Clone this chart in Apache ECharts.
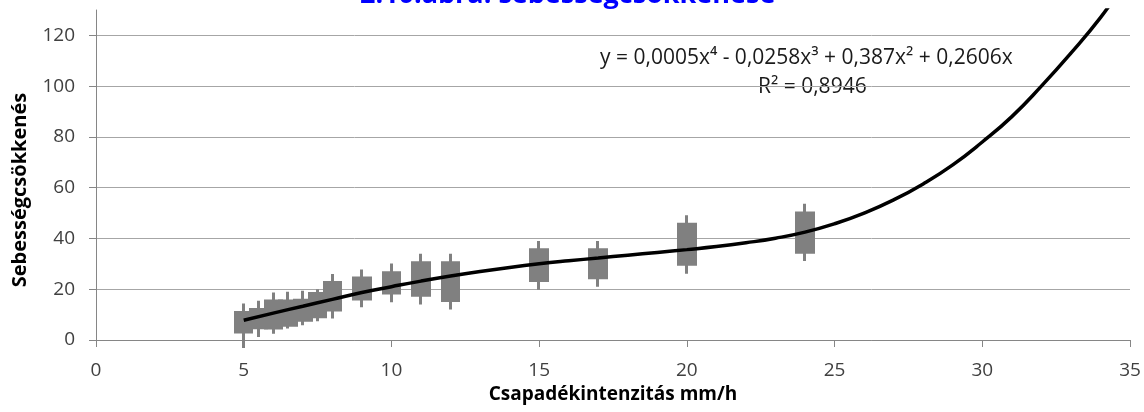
<!DOCTYPE html>
<html>
<head>
<meta charset="utf-8">
<script src="https://cdn.jsdelivr.net/npm/echarts@6/dist/echarts.min.js"></script>
<style>
  html, body { margin: 0; padding: 0; background: #fff; }
  #chart { width: 1144px; height: 412px; }
</style>
</head>
<body>
<div id="chart"></div>
<script>
// csapadékintenzitás (mm/h) – a mérési pontok helye
const intensities = [5, 5.5, 6, 6.5, 7, 7.5, 8, 9, 10, 11, 12, 15, 17, 20, 24];
// doboz alja / teteje, valamint a szélsőértékek
const boxLow  = [3.2, 4.8, 4.7, 5.8, 7.8, 9.2, 11.8, 16.2, 18.5, 17.6, 15.6, 23.4, 24.5, 29.8, 34.6];
const boxHigh = [10.8, 12, 15.4, 15.4, 15.7, 18.3, 22.7, 24.4, 26.5, 30.4, 30.4, 35.6, 35.6, 45.6, 50];
const minVals = [-3.2, 1.2, 2.5, 4.5, 5.8, 7.4, 8.5, 12.9, 14.9, 14, 12, 19.8, 21, 26.1, 31.1];
const maxVals = [14.4, 15.5, 18.7, 19, 19.4, 20, 26, 27.8, 30.1, 34, 34, 39, 39, 49.1, 53.7];

// trendvonal
const trendX = [5, 6, 7, 8, 9, 10, 11, 12, 13, 14, 15, 16, 17, 18, 19, 20, 21, 22, 23, 24, 25, 26, 27, 28, 29, 30, 31, 32, 33, 34, 34.6];
const trendY = [7.8, 10.6, 13.3, 16, 18.7, 21, 23.2, 25.2, 27, 28.6, 30, 31.2, 32.3, 33.4, 34.5, 35.6, 36.8, 38.3, 40.1, 42.5, 45.8, 50, 55.2, 61.5, 69, 78, 88, 100, 113, 127, 137];

const yTicks = [0, 20, 40, 60, 80, 100, 120];
const xTicks = [0, 5, 10, 15, 20, 25, 30, 35];

const equationText = 'y = 0,0005x⁴ - 0,0258x³ + 0,387x² + 0,2606x';
const r2Text = 'R² = 0,8946';

const chart = echarts.init(document.getElementById('chart'));

const boxData = intensities.map((x, i) => [x, boxLow[i], boxHigh[i], minVals[i], maxVals[i]]);
const trendData = trendX.map((x, i) => [x, trendY[i]]);

const axisGray = '#868686';
const labelFont = { fontFamily: 'Open Sans', fontSize: 19, color: '#404040' };

chart.setOption({
    animation: false,
    title: {
        text: '2.10.ábra: sebességcsökkenése',
        left: 355,
        top: -23,
        textStyle: { fontFamily: 'Open Sans', fontWeight: 'bold', fontSize: 27, color: '#0000ff' }
    },
    grid: { left: 96, right: 14, top: 10, bottom: 72 },
    xAxis: {
        type: 'value',
        min: xTicks[0],
        max: xTicks[xTicks.length - 1],
        interval: 5,
        name: 'Csapadékintenzitás mm/h',
        nameLocation: 'middle',
        nameGap: 40,
        nameTextStyle: { fontFamily: 'Open Sans', fontWeight: 'bold', fontSize: 19, color: '#000' },
        axisLine: { lineStyle: { color: axisGray, width: 1 } },
        axisTick: { show: true, inside: false, length: 7, lineStyle: { color: axisGray } },
        axisLabel: Object.assign({ margin: 21 }, labelFont),
        splitLine: { show: false }
    },
    yAxis: {
        type: 'value',
        min: yTicks[0],
        max: 130,
        interval: 20,
        name: 'Sebességcsökkenés',
        nameLocation: 'middle',
        nameGap: 66,
        nameTextStyle: { fontFamily: 'Open Sans', fontWeight: 'bold', fontSize: 20, color: '#000', padding: [0, 30, 0, 0] },
        axisLine: { show: true, lineStyle: { color: axisGray, width: 1 } },
        axisTick: { show: true, inside: false, length: 7, lineStyle: { color: axisGray } },
        axisLabel: Object.assign({ margin: 21, showMaxLabel: false }, labelFont),
        splitLine: { show: true, showMaxLine: false, lineStyle: { color: '#a6a6a6', width: 1 } }
    },
    series: [
        {
            type: 'candlestick',
            data: boxData,
            encode: { x: 0, y: [1, 2, 3, 4] },
            barWidth: 17,
            itemStyle: {
                color: '#808080',
                color0: '#808080',
                borderColor: '#808080',
                borderColor0: '#808080',
                borderWidth: 3
            }
        },
        {
            type: 'line',
            data: trendData,
            smooth: true,
            symbol: 'none',
            lineStyle: { color: '#000', width: 3.5 },
            z: 5
        }
    ],
    graphic: [
        {
            type: 'text',
            left: 600,
            top: 48,
            style: { text: equationText, font: '21px "Open Sans"', fill: '#1a1a1a' }
        },
        {
            type: 'text',
            left: 758,
            top: 77,
            style: { text: r2Text, font: '21px "Open Sans"', fill: '#1a1a1a' }
        }
    ]
});
</script>
</body>
</html>
